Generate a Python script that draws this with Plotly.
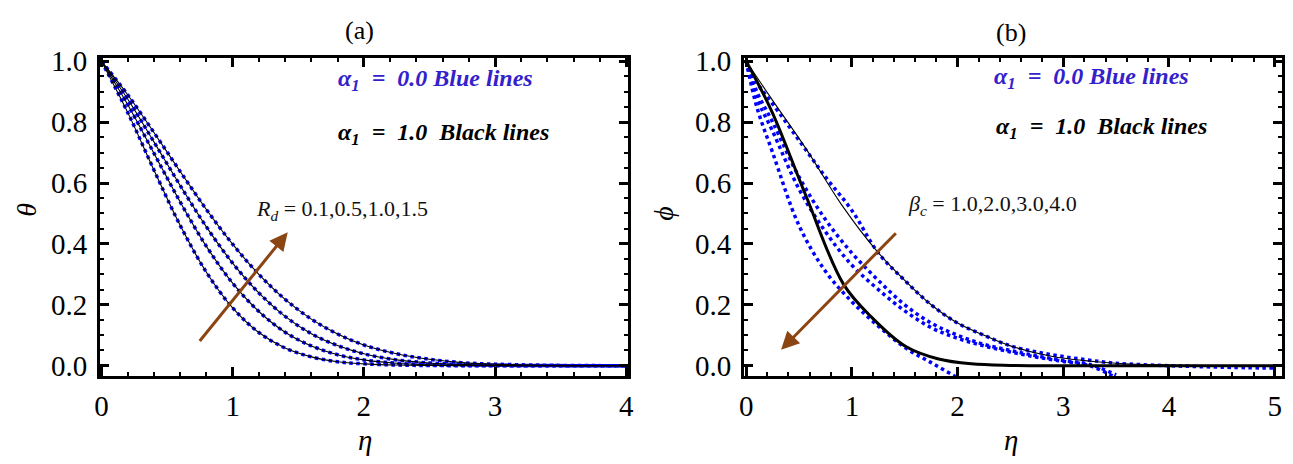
import plotly.graph_objects as go

# ---------------- data ----------------
eta_a = [0, 0.2, 0.4, 0.6, 0.8, 1.0, 1.2, 1.4, 1.6, 1.8, 2.0, 2.25, 2.5, 2.75, 3.0, 3.5, 4.0]
theta_rd01 = [1, 0.832, 0.643, 0.461, 0.307, 0.190, 0.109, 0.058, 0.029, 0.013, 0.006, 0.002, 0.0005, 0, 0, 0, 0]
theta_rd05 = [1, 0.858, 0.698, 0.538, 0.392, 0.271, 0.178, 0.110, 0.065, 0.036, 0.019, 0.008, 0.003, 0.001, 0.0003, 0, 0]
theta_rd10 = [1, 0.876, 0.735, 0.592, 0.456, 0.337, 0.239, 0.162, 0.105, 0.066, 0.039, 0.019, 0.009, 0.004, 0.0016, 0.0002, 0]
theta_rd15 = [1, 0.890, 0.766, 0.638, 0.513, 0.399, 0.300, 0.218, 0.153, 0.104, 0.068, 0.039, 0.021, 0.010, 0.005, 0.001, 0]

eta_b = [0, 0.1, 0.25, 0.5, 0.75, 1.0, 1.25, 1.5, 1.75, 2.0, 2.25, 2.5, 2.75, 3.0, 3.25, 3.5, 4.0, 4.5, 5.0]
phi_blue_bc1 = [1, 0.93, 0.86, 0.74, 0.62, 0.51, 0.37, 0.28, 0.20, 0.14, 0.10, 0.065, 0.045, 0.03, 0.018, 0.008, 0.0, -0.005, -0.008]
phi_blue_bc2 = [1, 0.90, 0.80, 0.62, 0.48, 0.37, 0.28, 0.20, 0.14, 0.10, 0.07, 0.05, 0.032, 0.017, 0.004, -0.03, None, None, None]
phi_blue_bc3 = [1, 0.88, 0.77, 0.58, 0.44, 0.33, 0.25, 0.18, 0.125, 0.09, 0.065, 0.045, 0.028, 0.014, 0.0, -0.04, None, None, None]
eta_b4 = [0, 0.1, 0.25, 0.5, 0.75, 1.0, 1.25, 1.5, 1.75, 2.0]
phi_blue_bc4 = [1, 0.85, 0.70, 0.46, 0.31, 0.21, 0.13, 0.06, 0.01, -0.04]

eta_k = [0, 0.245, 0.565, 0.92, 1.19, 1.51, 1.82, 2.13, 2.5, 3.0, 4.0, 5.0]
phi_black_thick = [1, 0.833, 0.558, 0.268, 0.158, 0.063, 0.022, 0.006, 0.001, 0, 0, 0]
eta_k1 = [0, 0.245, 0.565, 0.9, 1.235, 1.5, 1.75, 2.0, 2.25, 2.5, 2.9, 3.5, 4.0, 5.0]
phi_black_bc1 = [1, 0.874, 0.713, 0.53, 0.377, 0.28, 0.20, 0.14, 0.10, 0.065, 0.03, 0.008, 0.002, 0]

# arrow endpoints (data coordinates)
arrow_a = dict(tail=(0.74, 0.076), tip=(1.42, 0.438))
arrow_b = dict(tail=(1.43, 0.44), tip=(0.33, 0.052))

BLUE = "#0000ff"
BROWN = "#8b4513"
FONT = "Liberation Serif"

fig = go.Figure()

def blue(x, y, xa, ya):
    fig.add_trace(go.Scatter(x=x, y=y, mode="lines", xaxis=xa, yaxis=ya,
                             line=dict(color=BLUE, width=3.5, dash="dot", shape="spline"),
                             showlegend=False, hoverinfo="skip", connectgaps=False))

def black(x, y, xa, ya, w=1.1):
    fig.add_trace(go.Scatter(x=x, y=y, mode="lines", xaxis=xa, yaxis=ya,
                             line=dict(color="black", width=w, shape="spline"),
                             showlegend=False, hoverinfo="skip"))

# panel (a)
for th in (theta_rd01, theta_rd05, theta_rd10, theta_rd15):
    blue(eta_a, th, "x", "y")
for th in (theta_rd01, theta_rd05, theta_rd10, theta_rd15):
    black(eta_a, th, "x", "y")

# panel (b)
blue(eta_b, phi_blue_bc1, "x2", "y2")
blue(eta_b, phi_blue_bc2, "x2", "y2")
blue(eta_b, phi_blue_bc3, "x2", "y2")
blue(eta_b4, phi_blue_bc4, "x2", "y2")
black(eta_k1, phi_black_bc1, "x2", "y2", 1.1)
black(eta_k, phi_black_thick, "x2", "y2", 3)

W, H = 1293, 464
def px(xp):
    return xp / W
def py(yp):
    return 1 - yp / H

axis_common = dict(showgrid=False, zeroline=False, showline=True, linecolor="black", linewidth=3,
                   mirror="allticks", ticks="inside", ticklen=9, tickwidth=2.5, tickcolor="black",
                   tickfont=dict(family=FONT, size=29, color="black"))

fig.update_layout(
    width=W, height=H, margin=dict(l=0, r=0, t=0, b=0),
    paper_bgcolor="white", plot_bgcolor="white",
    xaxis=dict(domain=[px(95), px(628)], range=[-0.01, 4.015], anchor="y",
               tickvals=[0, 1, 2, 3, 4], ticklabelstandoff=2,
               minor=dict(ticks="inside", ticklen=4, tickwidth=2, dtick=0.2, tickcolor="black"),
               **axis_common),
    yaxis=dict(domain=[py(378), py(47)], range=[-0.035, 1.01], anchor="x",
               tickvals=[0, 0.2, 0.4, 0.6, 0.8, 1.0], tickformat=".1f", ticklabelstandoff=4,
               minor=dict(ticks="inside", ticklen=4, tickwidth=2, dtick=0.05, tickcolor="black"),
               **axis_common),
    xaxis2=dict(domain=[px(745), px(1288)], range=[-0.02, 5.07], anchor="y2",
                tickvals=[0, 1, 2, 3, 4, 5], ticklabelstandoff=2,
                minor=dict(ticks="inside", ticklen=4, tickwidth=2, dtick=0.2, tickcolor="black"),
                **axis_common),
    yaxis2=dict(domain=[py(378), py(47)], range=[-0.035, 1.01], anchor="x2",
                tickvals=[0, 0.2, 0.4, 0.6, 0.8, 1.0], tickformat=".1f", ticklabelstandoff=4,
                minor=dict(ticks="inside", ticklen=4, tickwidth=2, dtick=0.05, tickcolor="black"),
                **axis_common),
)

ann = []
def txt(x, y, s, size=24, color="black", angle=0, xanchor="center"):
    ann.append(dict(x=px(x), y=py(y), xref="paper", yref="paper", text=s, showarrow=False,
                    font=dict(family=FONT, size=size, color=color), textangle=angle,
                    xanchor=xanchor, yanchor="middle"))

txt(357, 18, "(a)", 26)
txt(1014, 20, "(b)", 26)
txt(362, 444, "<i>η</i>", 29)
txt(1014, 444, "<i>η</i>", 29)
txt(20, 205, "<i>θ</i>", 28, angle=-90)
txt(664, 208, "<i>ϕ</i>", 28, angle=-90)

txt(333, 70, "<b><i>α<sub>1</sub>  =  0.0 Blue lines</i></b>", 24, "#3322cc", xanchor="left")
txt(333, 126, "<b><i>α<sub>1</sub>  =  1.0  Black lines</i></b>", 24, "black", xanchor="left")
txt(995, 68, "<b><i>α<sub>1</sub>  =  0.0 Blue lines</i></b>", 24, "#3322cc", xanchor="left")
txt(997, 120, "<b><i>α<sub>1</sub>  =  1.0  Black lines</i></b>", 24, "black", xanchor="left")

txt(250, 205, "<i>R<sub>d</sub></i> = 0.1,0.5,1.0,1.5", 22, "#111", xanchor="left")
txt(908, 200, "<i>β<sub>c</sub></i> = 1.0,2.0,3.0,4.0", 22, "#111", xanchor="left")

for a, xr, yr in ((arrow_a, "x", "y"), (arrow_b, "x2", "y2")):
    ann.append(dict(x=a["tip"][0], y=a["tip"][1], ax=a["tail"][0], ay=a["tail"][1],
                    xref=xr, yref=yr, axref=xr, ayref=yr, text="", showarrow=True,
                    arrowhead=2, arrowsize=1.2, arrowwidth=3, arrowcolor=BROWN))

fig.update_layout(annotations=ann)
fig.write_html("out.html")
